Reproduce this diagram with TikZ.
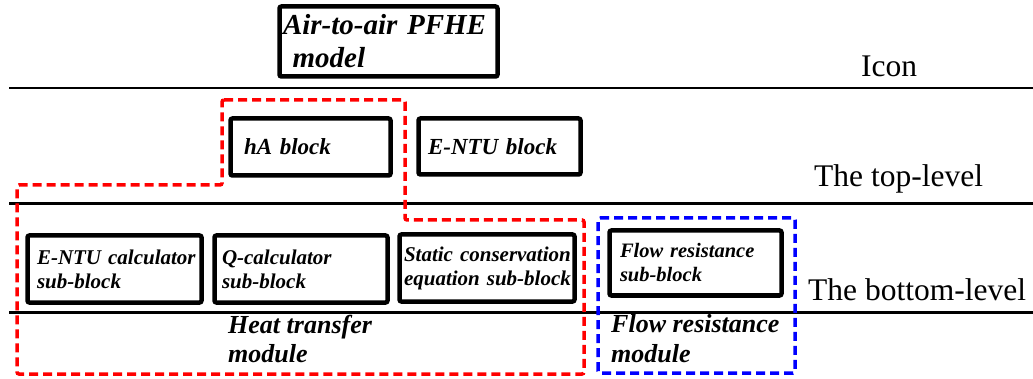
\documentclass[tikz,border=0pt]{standalone}
\usepackage{fontspec}
\setmainfont{Liberation Serif}
\usepackage{tikz}
\usetikzlibrary{positioning}
\newcommand{\bifont}[2]{\fontsize{#1}{#2}\selectfont\bfseries\itshape}
\tikzstyle{block} = [rectangle, rounded corners=2pt, draw=black, line width=4.5pt, align=left, inner ysep=0pt]
\tikzstyle{levelline} = [draw=black, line width=2.8pt]
\tikzstyle{levellabel} = [anchor=base west, inner sep=0pt, font=\fontsize{31.5}{36}\selectfont]
\tikzstyle{modlabel} = [anchor=base west, inner sep=0pt, align=left]
\tikzstyle{heatbound} = [draw=red, line width=3.5pt, dash pattern=on 9pt off 5pt, rounded corners=2pt]
\tikzstyle{flowbound} = [draw=blue, line width=3.5pt, dash pattern=on 9pt off 5pt, rounded corners=2pt]
\begin{document}
\begin{tikzpicture}[x=1pt, y=-1pt]
        \useasboundingbox (0,0) rectangle (1033,379);
        % level lines
        \draw [levelline] (9,88) -- (1033,88);
        \draw [levelline] (9,203.5) -- (1033,203.5);
        \draw [levelline] (9,312.5) -- (1033,312.5);
        \node (iconlabel) [levellabel] at (861,77) {Icon};
        \node (toplabel) [levellabel] at (814,187) {The top-level};
        \node (bottomlabel) [levellabel] at (808,300) {The bottom-level};

        \node (model) [block, minimum width=218pt, minimum height=70pt, inner xsep=3.5pt, text width=211pt, font=\bifont{29}{33}] at (388.5,41.5) {Air-to-air PFHE\\~model};
        \node (hablock) [block, minimum width=160pt, minimum height=57pt, inner xsep=13.5pt, text width=133pt, font=\bifont{23}{27}] at (310.5,147) {hA block};
        \node (entublock) [block, minimum width=162pt, minimum height=56pt, inner xsep=9.5pt, text width=143pt, font=\bifont{23}{27}] at (499.5,146.5) {E-NTU block};

        \node (calcsub) [block, minimum width=174pt, minimum height=67pt, inner xsep=9.5pt, text width=155pt, font=\bifont{21}{24}] at (114.5,269) {\mbox{E-NTU calculator}\\sub-block};
        \node (qsub) [block, minimum width=173pt, minimum height=67pt, inner xsep=7.5pt, text width=158pt, font=\bifont{21}{24}] at (301,269) {Q-calculator\\sub-block};
        \node (staticsub) [block, minimum width=175pt, minimum height=67pt, inner xsep=4.5pt, text width=166pt, font=\bifont{21}{24}] at (487,268) {\mbox{Static conservation}\\\mbox{equation sub-block}};
        \node (flowsub) [block, minimum width=172pt, minimum height=65pt, inner xsep=10.5pt, text width=151pt, yshift=3pt, font=\bifont{20.5}{24}] at (695.5,266) {Flow resistance\\sub-block};

        \node (heatlabel) [modlabel, font=\bifont{26}{29}] at (228,362) {Heat transfer\\module};
        \node (flowlabel) [modlabel, font=\bifont{26}{30}] at (611,362) {Flow resistance\\module};

        % module bounds
        \draw [heatbound] (222,100) -- (405,100) -- (405,220) -- (584,220) -- (584,374) -- (17,374) -- (17,185) -- (222,185) -- cycle;
        \draw [flowbound] (598,218) -- (795,218) -- (795,373) -- (598,373) -- cycle;
    \end{tikzpicture}
\end{document}
